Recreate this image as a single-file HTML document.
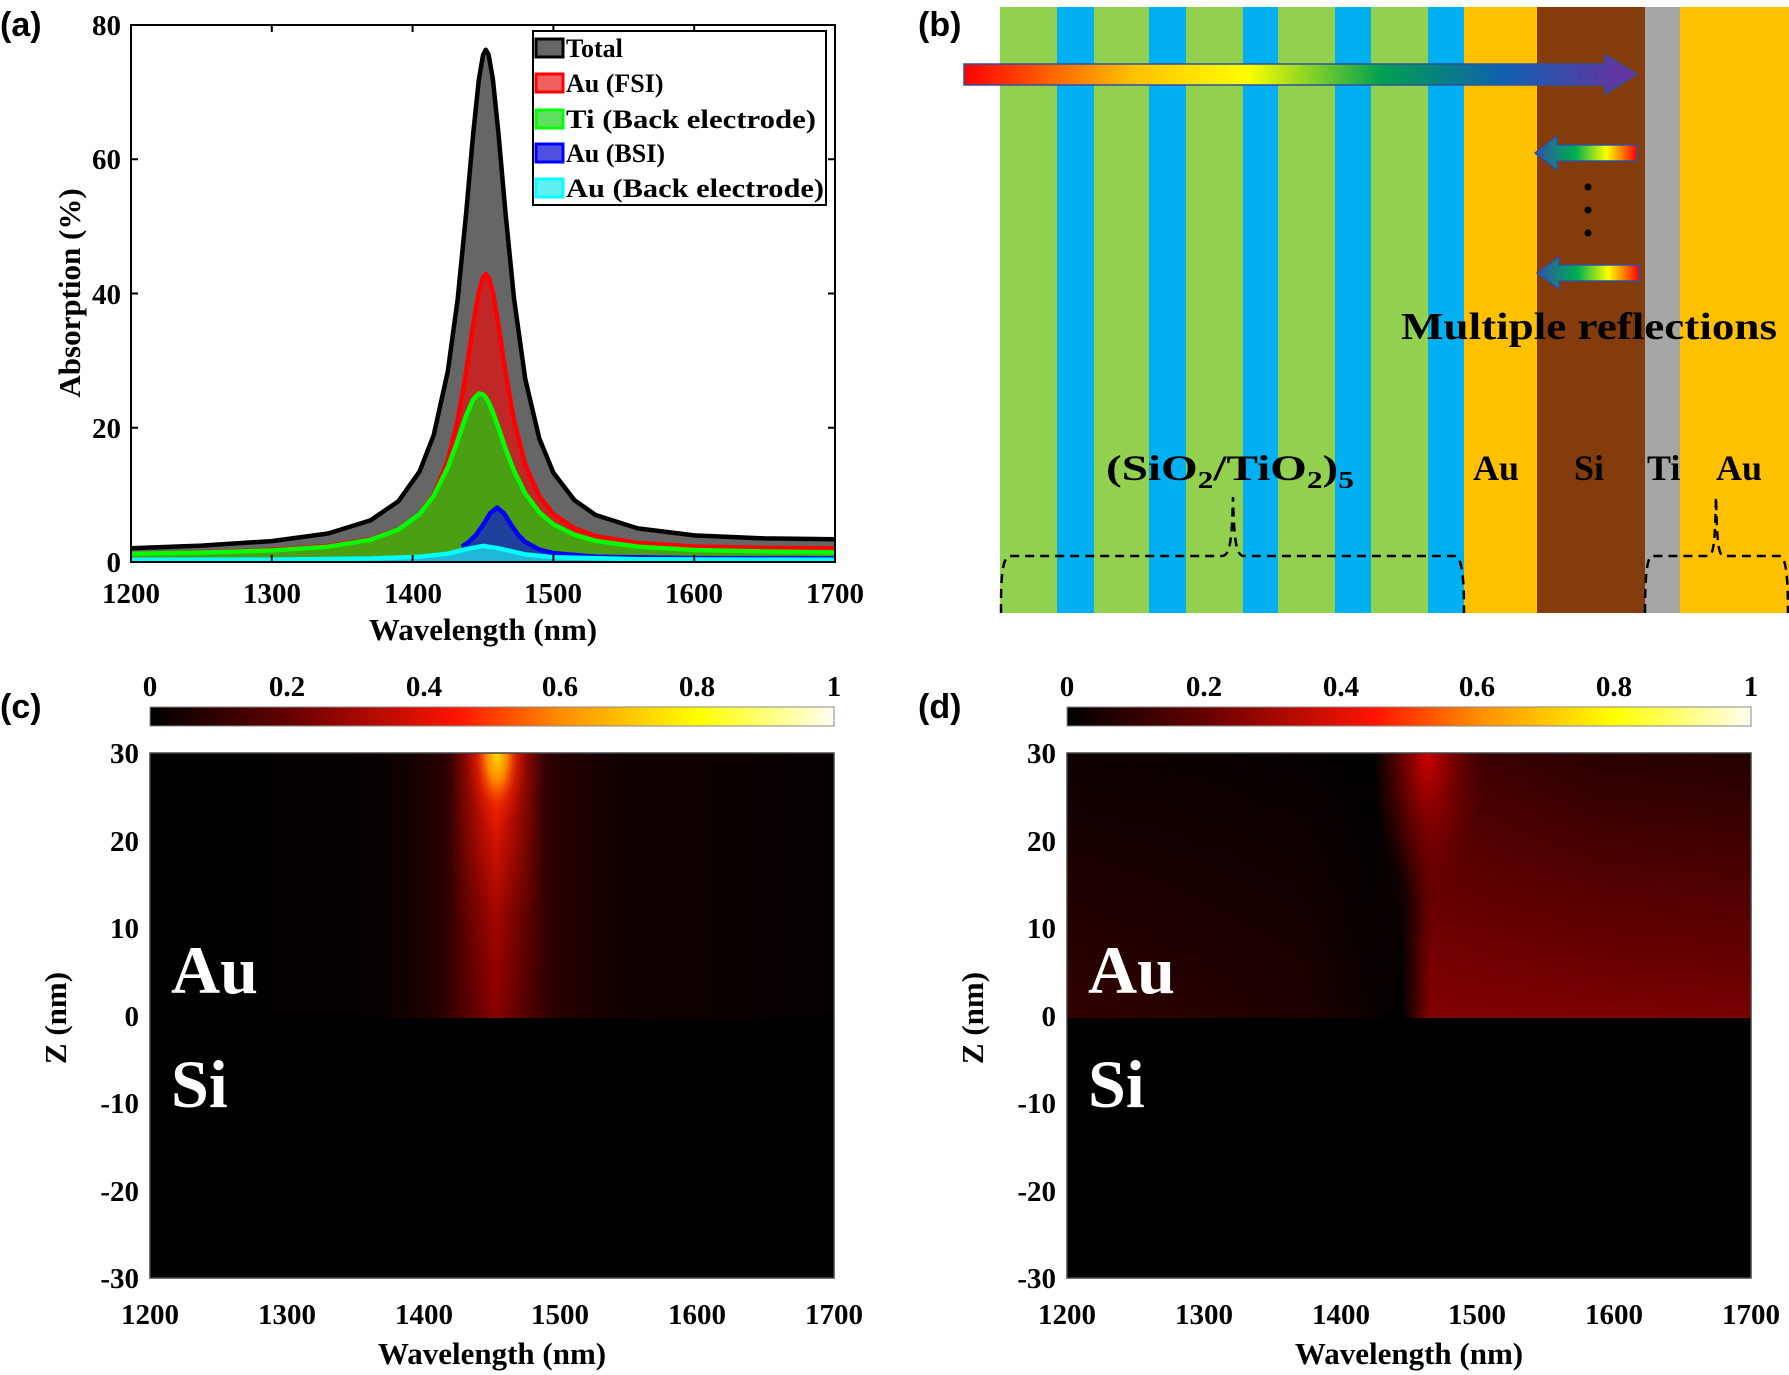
<!DOCTYPE html>
<html><head><meta charset="utf-8"><style>
html,body{margin:0;padding:0;background:#fff;}
svg{display:block}
.t{font-family:"Liberation Serif",serif;font-weight:bold;}
.s{font-family:"Liberation Sans",sans-serif;font-weight:bold;}
</style></head><body>
<svg width="1789" height="1375" xmlns="http://www.w3.org/2000/svg">
<defs>
<linearGradient id="rb" x1="0" x2="1" y1="0" y2="0">
<stop offset="0" stop-color="#ff0000"/><stop offset="0.25" stop-color="#ffc000"/><stop offset="0.42" stop-color="#ffff00"/><stop offset="0.62" stop-color="#00a050"/><stop offset="0.8" stop-color="#1060b0"/><stop offset="1" stop-color="#7030a0"/></linearGradient>
<linearGradient id="rb2" x1="1" x2="0" y1="0" y2="0">
<stop offset="0" stop-color="#ff0000"/><stop offset="0.3" stop-color="#ffff00"/><stop offset="0.6" stop-color="#00b050"/><stop offset="1" stop-color="#3050b0"/></linearGradient>
<linearGradient id="cb" x1="0" x2="1" y1="0" y2="0">
<stop offset="0" stop-color="#000"/><stop offset="0.2" stop-color="#640000"/><stop offset="0.45" stop-color="#ff1400"/><stop offset="0.6" stop-color="#ff8c00"/><stop offset="0.8" stop-color="#ffff00"/><stop offset="1" stop-color="#fffff0"/></linearGradient>
<linearGradient id="c1" gradientUnits="userSpaceOnUse" x1="150" x2="834" y1="0" y2="0">
<stop offset="0" stop-color="#000"/><stop offset="0.336" stop-color="#060000"/><stop offset="0.424" stop-color="#260000"/><stop offset="0.468" stop-color="#5a0000"/><stop offset="0.506" stop-color="#880000"/><stop offset="0.544" stop-color="#5a0000"/><stop offset="0.588" stop-color="#2a0000"/><stop offset="0.69" stop-color="#100000"/><stop offset="1" stop-color="#050000"/></linearGradient>
<linearGradient id="c2" gradientUnits="userSpaceOnUse" x1="150" x2="834" y1="0" y2="0">
<stop offset="0.44" stop-color="#ff1a00" stop-opacity="0"/><stop offset="0.48" stop-color="#ff1a00" stop-opacity="0.6"/><stop offset="0.506" stop-color="#ff2000" stop-opacity="1"/><stop offset="0.532" stop-color="#ff1a00" stop-opacity="0.6"/><stop offset="0.575" stop-color="#ff1a00" stop-opacity="0"/></linearGradient>
<linearGradient id="vg" x1="0" x2="0" y1="0" y2="1">
<stop offset="0" stop-color="#fff"/><stop offset="0.3" stop-color="#aaa"/><stop offset="0.6" stop-color="#3a3a3a"/><stop offset="1" stop-color="#000"/></linearGradient>
<linearGradient id="vg2" x1="0" x2="0" y1="0" y2="1">
<stop offset="0" stop-color="#000"/><stop offset="1" stop-color="#fff"/></linearGradient>
<mask id="mc"><rect x="150" y="753" width="684" height="265" fill="url(#vg)"/></mask>
<mask id="md"><rect x="1067" y="753" width="684" height="265" fill="url(#vg2)"/></mask>
<radialGradient id="cy" cx="0.5" cy="0.5" r="0.5">
<stop offset="0" stop-color="#ffe000"/><stop offset="0.35" stop-color="#ff9a00" stop-opacity="0.85"/><stop offset="0.7" stop-color="#ff3000" stop-opacity="0.3"/><stop offset="1" stop-color="#ff2000" stop-opacity="0"/></radialGradient>
<linearGradient id="d1" gradientUnits="userSpaceOnUse" x1="1067" x2="1751" y1="0" y2="0">
<stop offset="0" stop-color="#0c0000"/><stop offset="0.34" stop-color="#060000"/><stop offset="0.45" stop-color="#000"/><stop offset="0.48" stop-color="#180000"/><stop offset="0.53" stop-color="#480000"/><stop offset="0.63" stop-color="#3a0000"/><stop offset="0.78" stop-color="#2a0000"/><stop offset="1" stop-color="#240000"/></linearGradient>
<linearGradient id="d2" gradientUnits="userSpaceOnUse" x1="1067" x2="1751" y1="0" y2="0">
<stop offset="0" stop-color="#320000"/><stop offset="0.34" stop-color="#200000"/><stop offset="0.46" stop-color="#080000"/><stop offset="0.49" stop-color="#000"/><stop offset="0.53" stop-color="#820000"/><stop offset="1" stop-color="#780000"/></linearGradient>
<radialGradient id="dr" cx="0.5" cy="0.5" r="0.5">
<stop offset="0" stop-color="#d00000"/><stop offset="0.5" stop-color="#a00000" stop-opacity="0.5"/><stop offset="1" stop-color="#800000" stop-opacity="0"/></radialGradient>
<clipPath id="clc"><rect x="150" y="753" width="684" height="265"/></clipPath>
<clipPath id="cld"><rect x="1067" y="753" width="684" height="265"/></clipPath>
</defs>
<rect width="1789" height="1375" fill="#fff"/>
<text class="s" x="0" y="36" font-size="34">(a)</text>
<text class="s" x="918" y="36" font-size="34">(b)</text>
<text class="s" x="0" y="718" font-size="34">(c)</text>
<text class="s" x="918" y="718" font-size="34">(d)</text>

<!-- panel a -->
<g stroke-width="4.5" stroke-linejoin="round">
<path fill="#666" stroke="none" d="M131,562 L131,548.2 L201.4,545.6 L271.8,541.1 L328.1,533.5 L370.4,520.4 L398.5,501.2 L419.6,471.4 L433.7,435.1 L447.8,371.4 L457.7,298.9 L466.1,213.6 L473.1,134.4 L478.8,80 L483,55.2 L485.8,49.8 L488.6,54.5 L492.9,79.4 L498.5,133.7 L505.5,212.9 L514,298.2 L525.2,378.7 L539.3,438.5 L553.4,472.7 L574.5,500.2 L595.6,515 L637.9,528.4 L694.2,535.4 L764.6,538.4 L835,539.3 L835,562 Z"/>
<path fill="none" stroke="#000" d="M131,548.2 L201.4,545.6 L271.8,541.1 L328.1,533.5 L370.4,520.4 L398.5,501.2 L419.6,471.4 L433.7,435.1 L447.8,371.4 L457.7,298.9 L466.1,213.6 L473.1,134.4 L478.8,80 L483,55.2 L485.8,49.8 L488.6,54.5 L492.9,79.4 L498.5,133.7 L505.5,212.9 L514,298.2 L525.2,378.7 L539.3,438.5 L553.4,472.7 L574.5,500.2 L595.6,515 L637.9,528.4 L694.2,535.4 L764.6,538.4 L835,539.3"/>
<path fill="#c02828" stroke="none" d="M131,562 L131,553.7 L201.4,552.3 L271.8,549.9 L328.1,546 L370.4,539.2 L398.5,529.2 L419.6,513.9 L433.7,494.9 L447.8,460.6 L457.7,420.4 L466.1,372 L473.1,325.1 L478.8,292.2 L483,277.4 L485.8,274 L488.6,277.4 L492.9,292.2 L498.5,325.1 L505.5,372 L514,420.4 L525.2,464.7 L539.3,496.2 L553.4,514.3 L574.5,528.4 L595.6,536.1 L637.9,543 L694.2,546.5 L764.6,547.9 L835,548.3 L835,562 Z"/>
<path fill="none" stroke="#f00" d="M131,553.7 L201.4,552.3 L271.8,549.9 L328.1,546 L370.4,539.2 L398.5,529.2 L419.6,513.9 L433.7,494.9 L447.8,460.6 L457.7,420.4 L466.1,372 L473.1,325.1 L478.8,292.2 L483,277.4 L485.8,274 L488.6,277.4 L492.9,292.2 L498.5,325.1 L505.5,372 L514,420.4 L525.2,464.7 L539.3,496.2 L553.4,514.3 L574.5,528.4 L595.6,536.1 L637.9,543 L694.2,546.5 L764.6,547.9 L835,548.3"/>
<path fill="#4aa012" stroke="none" d="M131,562 L131,553.7 L201.4,552.6 L271.8,550.5 L328.1,546.7 L370.4,539.8 L398.5,529.5 L419.6,514.1 L433.7,495.9 L447.8,467.4 L457.7,440.5 L466.1,415.7 L473.1,399.6 L478.8,393.5 L483,394.5 L485.8,397.5 L488.6,402.2 L492.9,412.3 L498.5,427.8 L505.5,448.6 L514,470.7 L525.2,493.5 L539.3,512.3 L553.4,524.4 L574.5,534.8 L595.6,540.8 L637.9,546.7 L694.2,550 L764.6,551.5 L835,552.4 L835,562 Z"/>
<path fill="none" stroke="#0f0" d="M131,553.7 L201.4,552.6 L271.8,550.5 L328.1,546.7 L370.4,539.8 L398.5,529.5 L419.6,514.1 L433.7,495.9 L447.8,467.4 L457.7,440.5 L466.1,415.7 L473.1,399.6 L478.8,393.5 L483,394.5 L485.8,397.5 L488.6,402.2 L492.9,412.3 L498.5,427.8 L505.5,448.6 L514,470.7 L525.2,493.5 L539.3,512.3 L553.4,524.4 L574.5,534.8 L595.6,540.8 L637.9,546.7 L694.2,550 L764.6,551.5 L835,552.4"/>
<path fill="#1e3f9a" stroke="none" d="M461.9,562 L461.9,546.6 L468.9,541.9 L476,534.9 L483,524.9 L490,513.4 L497.1,507.6 L504.1,513.4 L511.2,524.9 L518.2,534.9 L525.2,541.9 L539.3,549.5 L553.4,553.1 L595.6,556.7 L694.2,558.1 L835,558.4 L835,562 Z"/>
<path fill="none" stroke="#00f" d="M461.9,546.6 L468.9,541.9 L476,534.9 L483,524.9 L490,513.4 L497.1,507.6 L504.1,513.4 L511.2,524.9 L518.2,534.9 L525.2,541.9 L539.3,549.5 L553.4,553.1 L595.6,556.7 L694.2,558.1 L835,558.4"/>
<path fill="#20b8d8" stroke="none" d="M131,562 L131,559.8 L271.8,559.6 L370.4,558.5 L419.6,556.7 L447.8,553.7 L466.1,549.2 L483,545.9 L498.5,548.3 L525.2,554.4 L553.4,557.2 L637.9,559.2 L835,559.8 L835,562 Z"/>
<path fill="none" stroke="#0ff" d="M131,559.8 L271.8,559.6 L370.4,558.5 L419.6,556.7 L447.8,553.7 L466.1,549.2 L483,545.9 L498.5,548.3 L525.2,554.4 L553.4,557.2 L637.9,559.2 L835,559.8"/>
</g>
<rect x="131" y="25" width="704" height="537" fill="none" stroke="#000" stroke-width="2"/>
<g stroke="#000" stroke-width="2">
<path d="M131,562v-7M271.8,562v-7M412.6,562v-7M553.4,562v-7M694.2,562v-7M271.8,25v7M412.6,25v7M553.4,25v7M694.2,25v7"/>
<path d="M131,427.75h7M131,293.5h7M131,159.25h7M835,427.75h-7M835,293.5h-7M835,159.25h-7"/>
</g>
<g class="t" font-size="29" text-anchor="end">
<text x="121" y="572">0</text><text x="121" y="438">20</text><text x="121" y="304">40</text><text x="121" y="169">60</text><text x="121" y="35">80</text>
</g>
<g class="t" font-size="29" text-anchor="middle">
<text x="131" y="603">1200</text><text x="272" y="603">1300</text><text x="413" y="603">1400</text><text x="553" y="603">1500</text><text x="694" y="603">1600</text><text x="835" y="603">1700</text>
</g>
<text class="t" x="483" y="640" font-size="31" text-anchor="middle">Wavelength (nm)</text>
<text class="t" font-size="31" text-anchor="middle" transform="translate(80,293) rotate(-90)">Absorption (%)</text>
<rect x="533" y="31" width="293" height="174" fill="#fff" stroke="#000" stroke-width="2"/>
<g stroke-width="3">
<rect x="536" y="39" width="27" height="18" fill="#666" stroke="#000"/>
<rect x="536" y="74" width="27" height="18" fill="#f06060" stroke="#f00"/>
<rect x="536" y="110" width="27" height="18" fill="#60e060" stroke="#0f0"/>
<rect x="536" y="144" width="27" height="18" fill="#5050e0" stroke="#00f"/>
<rect x="536" y="179" width="27" height="18" fill="#60f0f0" stroke="#0ff"/>
</g>
<g class="t" font-size="26">
<text x="566" y="57">Total</text><text x="566" y="92">Au (FSI)</text><text x="566" y="128" textLength="250" lengthAdjust="spacingAndGlyphs">Ti (Back electrode)</text><text x="566" y="162">Au (BSI)</text><text x="566" y="197" textLength="258" lengthAdjust="spacingAndGlyphs">Au (Back electrode)</text>
</g>

<!-- panel b -->
<rect x="1000" y="7" width="789" height="606" fill="#92d050"/>
<g fill="#00b0f0">
<rect x="1057" y="7" width="37" height="606"/><rect x="1149" y="7" width="37" height="606"/><rect x="1243" y="7" width="35" height="606"/><rect x="1335" y="7" width="36" height="606"/><rect x="1428" y="7" width="36" height="606"/>
</g>
<rect x="1464" y="7" width="73" height="606" fill="#ffc000"/>
<rect x="1537" y="7" width="108" height="606" fill="#843c0c"/>
<rect x="1645" y="7" width="35" height="606" fill="#a6a6a6"/>
<rect x="1680" y="7" width="109" height="606" fill="#ffc000"/>
<polygon points="964,64 1605,64 1605,55 1637,74 1605,94 1605,85 964,85" fill="url(#rb)" stroke="#3050a0" stroke-width="1.5"/>
<polygon points="1637,145 1557,145 1557,136 1535,153 1557,170 1557,161 1637,161" fill="url(#rb2)" stroke="#3050a0" stroke-width="1.5"/>
<polygon points="1639,265 1559,265 1559,257 1537,273 1559,289 1559,281 1639,281" fill="url(#rb2)" stroke="#3050a0" stroke-width="1.5"/>
<circle cx="1588" cy="187" r="3.5"/><circle cx="1588" cy="210" r="3.5"/><circle cx="1588" cy="233" r="3.5"/>
<text class="t" x="1401" y="339" font-size="38" textLength="376" lengthAdjust="spacingAndGlyphs">Multiple reflections</text>
<text class="t" x="1106" y="480" font-size="36" textLength="248" lengthAdjust="spacingAndGlyphs">(SiO<tspan font-size="24" dy="8">2</tspan><tspan dy="-8">/TiO</tspan><tspan font-size="24" dy="8">2</tspan><tspan dy="-8">)</tspan><tspan font-size="24" dy="8">5</tspan></text>
<g class="t" font-size="36">
<text x="1473" y="480">Au</text><text x="1574" y="480">Si</text><text x="1647" y="480">Ti</text><text x="1716" y="480">Au</text>
</g>
<g fill="none" stroke="#000" stroke-width="2.5" stroke-dasharray="9,6">
<path d="M1001,613 C1001,585 1001,557 1010,556 L1222,556 C1230,556 1232,540 1233,497 C1234,540 1236,556 1244,556 L1455,556 C1463,557 1464,585 1464,613"/>
<path d="M1645,613 C1645,585 1646,557 1652,556 L1708,556 C1714,556 1715,540 1716,497 C1717,540 1718,556 1724,556 L1780,556 C1787,557 1788,585 1788,613"/>
</g>

<!-- panel c heatmap -->
<rect x="150" y="753" width="684" height="525" fill="#000"/>
<g clip-path="url(#clc)">
<rect x="150" y="753" width="684" height="265" fill="url(#c1)"/>
<rect x="150" y="753" width="684" height="265" fill="url(#c2)" mask="url(#mc)"/>
<ellipse cx="497" cy="753" rx="30" ry="80" fill="url(#cy)"/>
</g>
<!-- panel d heatmap -->
<rect x="1067" y="753" width="684" height="525" fill="#000"/>
<g clip-path="url(#cld)">
<rect x="1067" y="753" width="684" height="265" fill="url(#d1)"/>
<rect x="1067" y="753" width="684" height="265" fill="url(#d2)" mask="url(#md)"/>
<ellipse cx="1428" cy="753" rx="55" ry="150" fill="url(#dr)"/>
</g>

<!-- panel c labels -->
<rect x="150" y="707" width="684" height="19" fill="url(#cb)" stroke="#888"/>
<rect x="150" y="753" width="684" height="525" fill="none" stroke="#444" stroke-width="1.5"/>
<g class="t" font-size="29" text-anchor="middle">
<text x="150" y="696">0</text><text x="287" y="696">0.2</text><text x="424" y="696">0.4</text><text x="560" y="696">0.6</text><text x="697" y="696">0.8</text><text x="834" y="696">1</text>
<text x="150" y="1324">1200</text><text x="287" y="1324">1300</text><text x="424" y="1324">1400</text><text x="560" y="1324">1500</text><text x="697" y="1324">1600</text><text x="834" y="1324">1700</text>
<text x="492" y="1364" font-size="31">Wavelength (nm)</text>
<text font-size="31" transform="translate(66,1018) rotate(-90)">Z (nm)</text>
</g>
<g class="t" font-size="29" text-anchor="end">
<text x="139" y="763">30</text><text x="139" y="851">20</text><text x="139" y="938">10</text><text x="139" y="1026">0</text><text x="139" y="1113">-10</text><text x="139" y="1201">-20</text><text x="139" y="1288">-30</text>
</g>
<g class="t" font-size="68" fill="#fff"><text x="171" y="993">Au</text><text x="171" y="1107">Si</text></g>

<!-- panel d labels -->
<rect x="1067" y="707" width="684" height="19" fill="url(#cb)" stroke="#888"/>
<rect x="1067" y="753" width="684" height="525" fill="none" stroke="#444" stroke-width="1.5"/>
<g class="t" font-size="29" text-anchor="middle">
<text x="1067" y="696">0</text><text x="1204" y="696">0.2</text><text x="1341" y="696">0.4</text><text x="1477" y="696">0.6</text><text x="1614" y="696">0.8</text><text x="1751" y="696">1</text>
<text x="1067" y="1324">1200</text><text x="1204" y="1324">1300</text><text x="1341" y="1324">1400</text><text x="1477" y="1324">1500</text><text x="1614" y="1324">1600</text><text x="1751" y="1324">1700</text>
<text x="1409" y="1364" font-size="31">Wavelength (nm)</text>
<text font-size="31" transform="translate(983,1018) rotate(-90)">Z (nm)</text>
</g>
<g class="t" font-size="29" text-anchor="end">
<text x="1056" y="763">30</text><text x="1056" y="851">20</text><text x="1056" y="938">10</text><text x="1056" y="1026">0</text><text x="1056" y="1113">-10</text><text x="1056" y="1201">-20</text><text x="1056" y="1288">-30</text>
</g>
<g class="t" font-size="68" fill="#fff"><text x="1088" y="993">Au</text><text x="1088" y="1107">Si</text></g>
</svg>
</body></html>
